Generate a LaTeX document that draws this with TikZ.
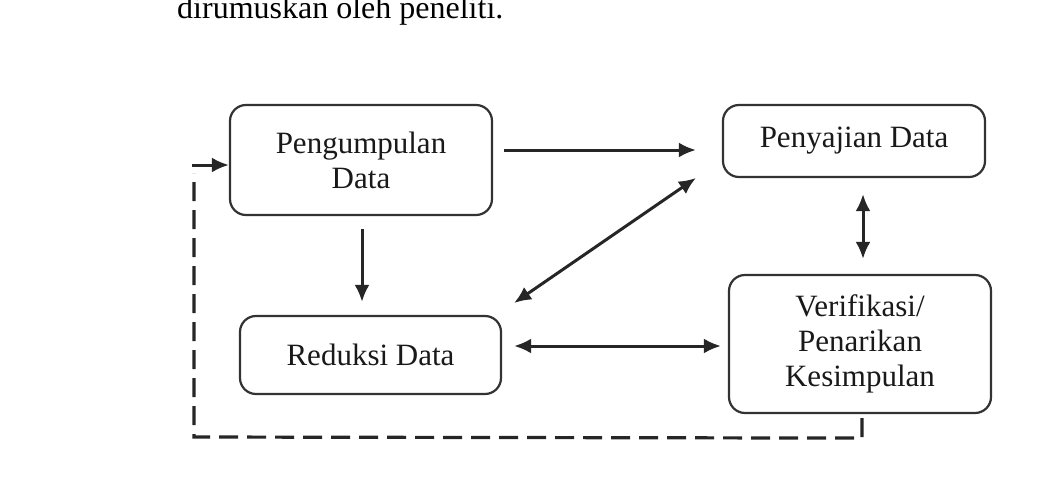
\documentclass[tikz,border=0pt]{standalone}
\usepackage{fontspec}
\setmainfont{Liberation Serif}
\usetikzlibrary{arrows.meta,calc}
\begin{document}
\begin{tikzpicture}[x=1pt,y=-1pt,
  box/.style={draw=black!80, line width=2.2pt, rounded corners=16pt, inner sep=0pt, align=center, font=\fontsize{31}{35}\selectfont, text=black!90},
  arr/.style={line width=3pt, draw=black!85, -{Latex[length=17pt,width=15pt]}},
  darr/.style={line width=3pt, draw=black!85, {Latex[length=17pt,width=15pt]}-{Latex[length=17pt,width=15pt]}},
  fb/.style={line width=3.2pt, draw=black!85, dash pattern=on 19pt off 9pt}]
\useasboundingbox (0,0) rectangle (1047,479);
\clip (0,0) rectangle (1047,479);
\node[anchor=base west, font=\fontsize{32}{36}\selectfont, inner sep=0pt] (cap) at (177,19) {dirumuskan oleh peneliti.};
\node[box, minimum width=262pt, minimum height=110pt] (pd) at (361,160) {Pengumpulan\\Data};
\node[box, minimum width=262pt, minimum height=72pt] (ps) at (854,141) {Penyajian Data};
\node[box, minimum width=261pt, minimum height=78pt] (rd) at (370.5,355) {Reduksi Data};
\node[box, minimum width=262pt, minimum height=138pt] (vk) at (860,344) {Verifikasi/\\Penarikan\\Kesimpulan};
\draw[arr] ($(pd.east)+(11,-10)$) -- ($(ps.west)+(-26,9)$);
\draw[darr] ($(rd.east)+(12,-52)$) -- ($(ps.west)+(-26,37)$);
\draw[arr] ($(pd.south)+(1,13)$) -- ($(rd.north)+(-8.5,-13)$);
\draw[darr] ($(ps.south)+(9,16)$) -- ($(vk.north)+(3,-15)$);
\draw[darr] ($(rd.east)+(12,-9)$) -- ($(vk.west)+(-7,2)$);
\coordinate (fbr) at ($(vk.south)+(2,24)$);
\coordinate (fbl) at (194,437);
\coordinate (fbt) at (194,173);
\coordinate (fbs) at (192,165);
\draw[fb] ($(vk.south)+(2,4)$) -- (fbr) -- (fbl) -- (fbt);
\draw[arr] (fbs) -- ($(pd.west)+(0,5)$);
\end{tikzpicture}
\end{document}
